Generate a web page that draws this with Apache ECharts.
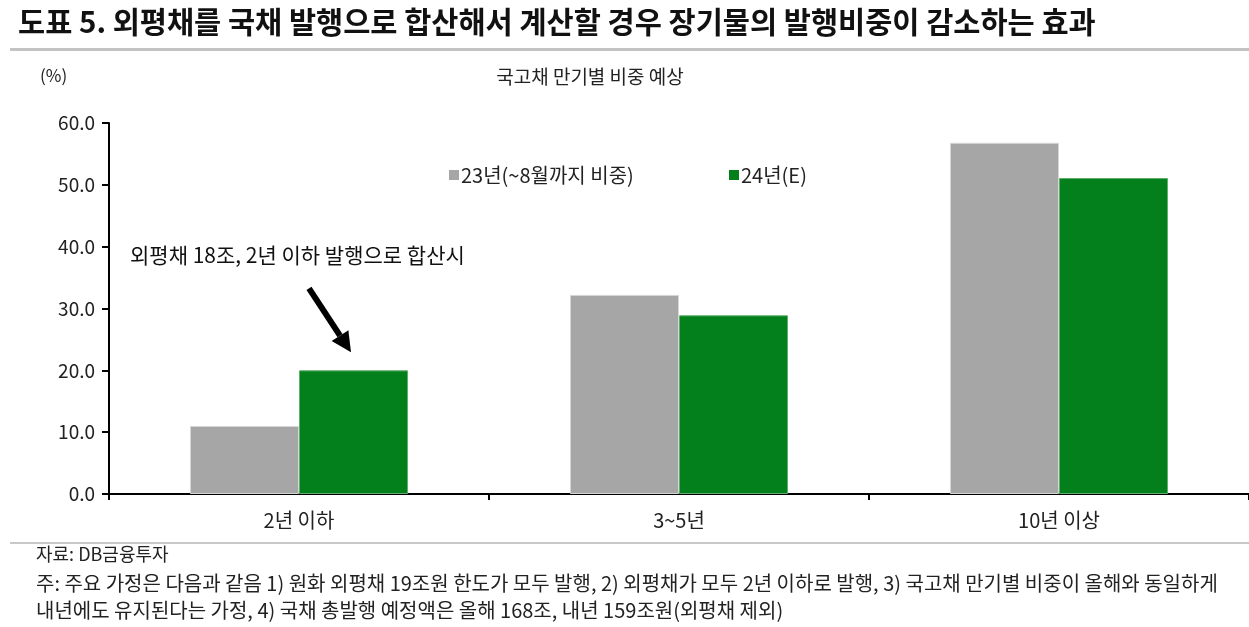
<!DOCTYPE html>
<html>
<head>
    <meta charset="utf-8">
    <script src="https://cdn.jsdelivr.net/npm/echarts@6/dist/echarts.min.js"></script>
    <style>
        html, body { margin: 0; padding: 0; background: #fff; }
    </style>
</head>
<body>
<div id="main" style="width: 1249px;height:627px;"></div>
<script type="text/javascript">

    // 데이터
    var categories = ['2년 이하', '3~5년', '10년 이상'];
    var share23 = [11.0, 32.2, 56.8];
    var share24 = [20.0, 28.9, 51.1];
    var seriesNames = ['23년(~8월까지 비중)', '24년(E)'];
    var yTicks = [0, 10, 20, 30, 40, 50, 60];

    var FONT = '"Noto Sans CJK KR", "Noto Sans", sans-serif';
    var myChart = echarts.init(document.getElementById('main'));

    var legendText = { fontSize: 20, color: '#222', padding: [0, 0, 0, -3] };

    var option = {
        backgroundColor: '#fff',
        animation: false,
        textStyle: { fontFamily: FONT },
        title: [
            {
                text: '도표 5. 외평채를 국채 발행으로 합산해서 계산할 경우 장기물의 발행비중이 감소하는 효과',
                left: 13, top: 2,
                textStyle: { fontSize: 29.5, fontWeight: 'bold', color: '#111', fontFamily: FONT }
            },
            {
                text: '국고채 만기별 비중 예상',
                left: 585, top: 62, textAlign: 'center',
                textStyle: { fontSize: 19, fontWeight: 'normal', color: '#222', fontFamily: FONT }
            },
            {
                text: '(%)',
                left: 35, top: 62,
                textStyle: { fontSize: 17, fontWeight: 'normal', color: '#222', fontFamily: FONT }
            }
        ],
        legend: [
            {
                data: [seriesNames[0]], left: 444, top: 160,
                itemWidth: 10, itemHeight: 10, icon: 'rect',
                itemStyle: { borderWidth: 0 },
                textStyle: legendText
            },
            {
                data: [seriesNames[1]], left: 724, top: 160,
                itemWidth: 10, itemHeight: 10, icon: 'rect',
                itemStyle: { borderWidth: 0 },
                textStyle: legendText
            }
        ],
        grid: { left: 109, top: 123, width: 1148, height: 371 },
        xAxis: {
            type: 'category',
            data: categories,
            axisLine: { lineStyle: { color: '#000', width: 2 } },
            axisTick: { show: true, length: 6, lineStyle: { color: '#000', width: 2 } },
            axisLabel: { fontSize: 20, color: '#222', margin: 16 }
        },
        yAxis: {
            type: 'value',
            min: yTicks[0], max: yTicks[yTicks.length - 1], interval: 10,
            axisLine: { show: true, lineStyle: { color: '#000', width: 2 } },
            axisTick: { show: true, length: 7, lineStyle: { color: '#000', width: 2 } },
            splitLine: { show: false },
            axisLabel: {
                fontSize: 19, color: '#222', margin: 14,
                formatter: function (v) { return v.toFixed(1); }
            }
        },
        series: [
            {
                name: seriesNames[0], type: 'bar', data: share23,
                barWidth: 109, barGap: '0%',
                itemStyle: { color: '#a6a6a6', borderColor: '#d6d6d6', borderWidth: 1 }
            },
            {
                name: seriesNames[1], type: 'bar', data: share24,
                barWidth: 109,
                itemStyle: { color: '#03801b', borderColor: '#5fae6c', borderWidth: 1 }
            }
        ],
        graphic: [
            { type: 'rect', shape: { x: 10, y: 48, width: 1239, height: 3 }, style: { fill: '#c3c3c3' } },
            { type: 'rect', shape: { x: 10, y: 542, width: 1239, height: 2 }, style: { fill: '#c8c8c8' } },
            {
                type: 'text', left: 130, top: 245,
                style: { text: '외평채 18조, 2년 이하 발행으로 합산시', fontSize: 21, fill: '#111', fontFamily: FONT }
            },
            {
                type: 'text', left: 36, top: 545,
                style: { text: '자료: DB금융투자', fontSize: 18, fill: '#222', fontFamily: FONT }
            },
            {
                type: 'text', left: 36, top: 573,
                style: {
                    text: '주: 주요 가정은 다음과 같음 1) 원화 외평채 19조원 한도가 모두 발행, 2) 외평채가 모두 2년 이하로 발행, 3) 국고채 만기별 비중이 올해와 동일하게',
                    fontSize: 20, fill: '#222', fontFamily: FONT
                }
            },
            {
                type: 'text', left: 36, top: 600,
                style: {
                    text: '내년에도 유지된다는 가정, 4) 국채 총발행 예정액은 올해 168조, 내년 159조원(외평채 제외)',
                    fontSize: 20, fill: '#222', fontFamily: FONT
                }
            }
        ]
    };

    myChart.setOption(option);

    // 화살표: 24년(E) 2년 이하 막대 위를 가리킴
    var tip = myChart.convertToPixel({ gridIndex: 0 }, [categories[0], share24[0]]);
    var tipX = tip[0] + 55 - 3, tipY = tip[1] - 18;
    var startX = tipX - 42, startY = tipY - 64;
    var ang = Math.atan2(tipY - startY, tipX - startX);
    var headLen = 20, headW = 10;
    var bx = tipX - headLen * Math.cos(ang), by = tipY - headLen * Math.sin(ang);
    var px = -Math.sin(ang), py = Math.cos(ang);
    myChart.setOption({
        graphic: option.graphic.concat([
            {
                type: 'line',
                shape: { x1: startX, y1: startY, x2: bx, y2: by },
                style: { stroke: '#000', lineWidth: 6 }
            },
            {
                type: 'polygon',
                shape: { points: [[tipX, tipY], [bx + px * headW, by + py * headW], [bx - px * headW, by - py * headW]] },
                style: { fill: '#000' }
            }
        ])
    });

</script>
</body>
</html>
